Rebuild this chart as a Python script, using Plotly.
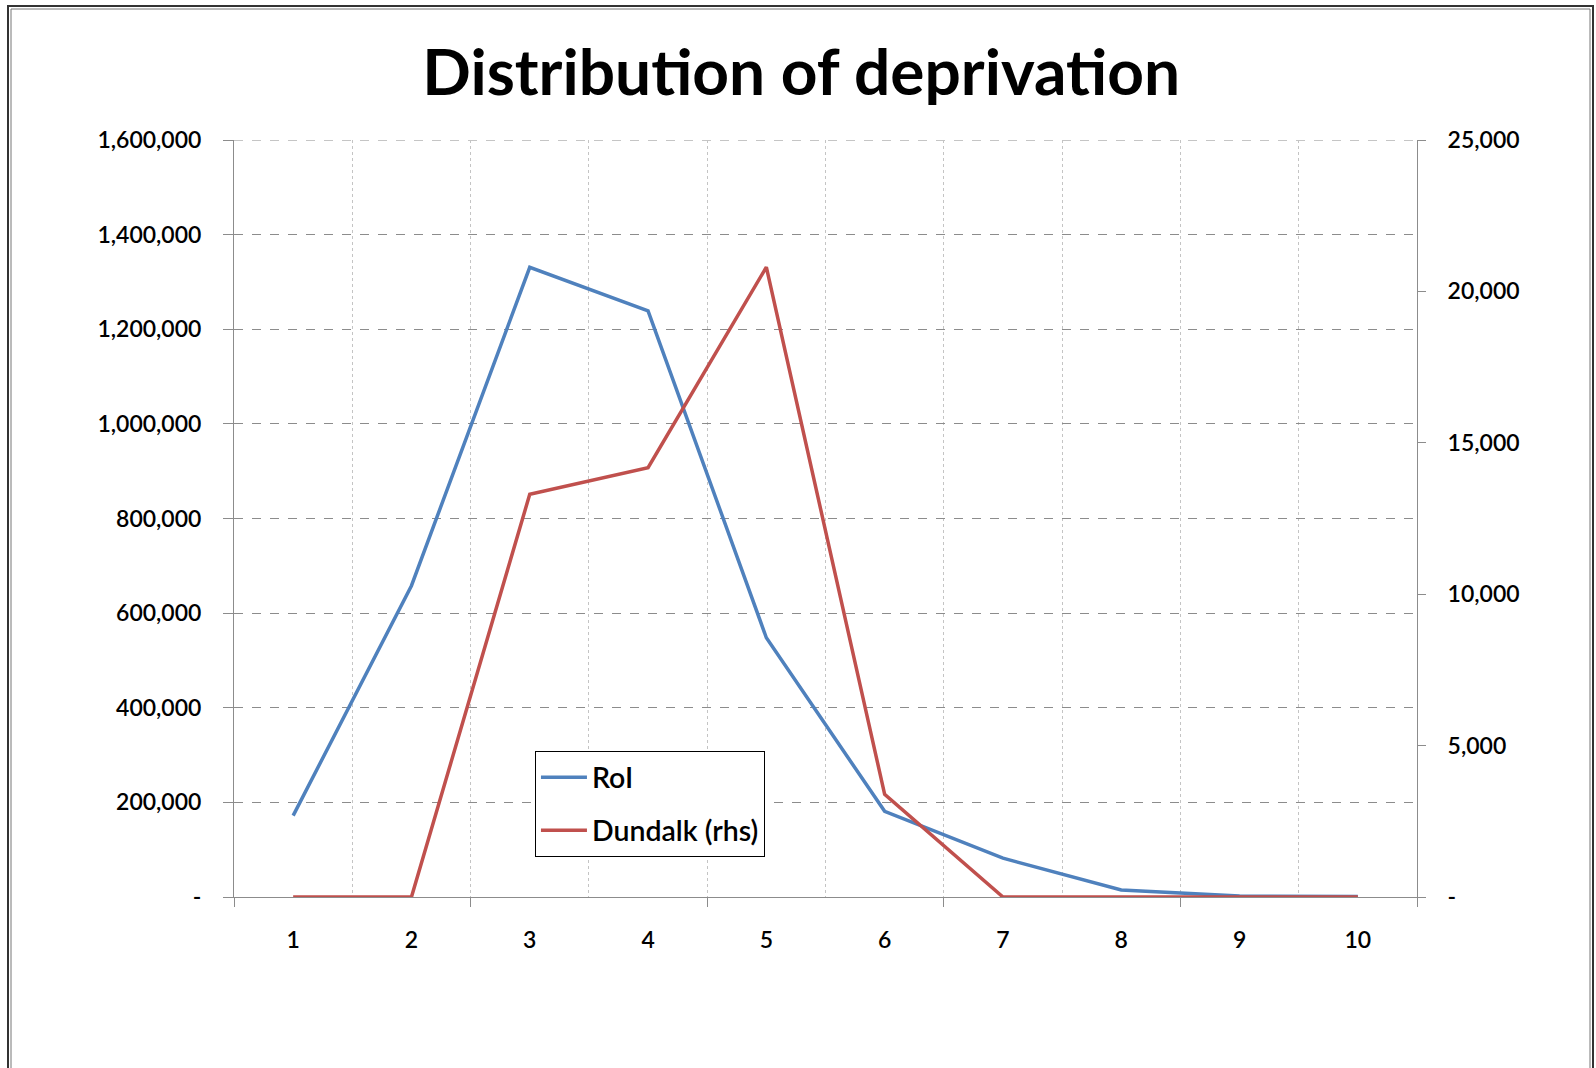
import plotly.graph_objects as go

deciles = [1, 2, 3, 4, 5, 6, 7, 8, 9, 10]
roi = [172000, 658000, 1331000, 1239000, 548000, 181000, 82000, 15000, 2000, 1000]
dundalk = [0, 0, 13300, 14180, 20800, 3390, 0, 0, 0, 0]

left_ticks = [0, 200000, 400000, 600000, 800000, 1000000, 1200000, 1400000, 1600000]
left_labels = ["-", "200,000", "400,000", "600,000", "800,000", "1,000,000", "1,200,000", "1,400,000", "1,600,000"]
right_ticks = [0, 5000, 10000, 15000, 20000, 25000]
right_labels = ["-", "5,000", "10,000", "15,000", "20,000", "25,000"]
x_bounds = [0.5, 1.5, 2.5, 3.5, 4.5, 5.5, 6.5, 7.5, 8.5, 9.5, 10.5]
x_major = [0.5, 2.5, 4.5, 6.5, 8.5, 10.5]

FONT = "Lato"
BLUE = "#4F81BD"
RED = "#C0504D"
AX = "#8c8c8c"

fig = go.Figure()
fig.add_trace(go.Scatter(x=deciles, y=roi, name="RoI", mode="lines",
                         line=dict(color=BLUE, width=3.5), legendgroup="a"))
fig.add_trace(go.Scatter(x=deciles, y=dundalk, name="Dundalk (rhs)", mode="lines",
                         line=dict(color=RED, width=3.5), yaxis="y2", legendgroup="b"))
# helper trace for the overlay x-axis that carries the major tick marks
fig.add_trace(go.Scatter(x=[x_bounds[0]], y=[0], xaxis="x2", mode="markers",
                         marker=dict(opacity=0), showlegend=False, hoverinfo="skip"))

tickfont = dict(family=FONT, size=23, color="black", weight=600)

fig.update_layout(
    width=1596, height=1068, autosize=False,
    paper_bgcolor="white", plot_bgcolor="white",
    margin=dict(l=234, r=179, t=140, b=171, pad=0),
    font=dict(family=FONT, size=22, color="black"),
    title=dict(text="<b>Distribution of deprivation</b>", x=0.502, xref="container",
               xanchor="center", y=0.932, yref="container", yanchor="middle",
               font=dict(family=FONT, size=64, color="black")),
    xaxis=dict(range=[0.5, 10.5], tickvals=deciles, ticktext=[str(d) for d in deciles],
               ticks="", showgrid=False, zeroline=False,
               showline=True, linecolor=AX, linewidth=1,
               ticklabelstandoff=22,
               tickfont=tickfont,
               minor=dict(tickvals=x_bounds, showgrid=True, gridcolor="#c4c4c4",
                          griddash="dot", gridwidth=1, ticks="")),
    xaxis2=dict(range=[0.5, 10.5], overlaying="x", side="bottom", anchor="y",
                tickvals=x_major, ticks="outside", ticklen=9, tickcolor=AX,
                showticklabels=False, showgrid=False, zeroline=False, showline=False),
    yaxis=dict(range=[0, left_ticks[-1]], tickvals=left_ticks, ticktext=left_labels,
               ticks="outside", ticklen=10, tickcolor=AX,
               showgrid=True, gridcolor=AX, griddash="dash", gridwidth=1,
               zeroline=False, showline=True, linecolor=AX, linewidth=1,
               ticklabelstandoff=17,
               tickfont=tickfont),
    yaxis2=dict(range=[0, right_ticks[-1]], tickvals=right_ticks, ticktext=right_labels,
                overlaying="y", side="right", anchor="x",
                ticks="outside", ticklen=8, tickcolor=AX,
                showgrid=False, zeroline=False, showline=True, linecolor=AX, linewidth=1,
                ticklabelstandoff=17,
                tickfont=tickfont),
    legend=dict(x=0.2544, y=0.1927, xanchor="left", yanchor="top",
                bgcolor="white", bordercolor="black", borderwidth=1,
                font=dict(family=FONT, size=28.5, color="black", weight=600),
                tracegroupgap=13, itemwidth=46),
    showlegend=True,
)

# top gridline at the end of the left value axis (Plotly omits it at the edge)
fig.add_shape(type="line", xref="paper", yref="y", x0=0, x1=1,
              y0=left_ticks[-1], y1=left_ticks[-1],
              line=dict(color=AX, width=1, dash="dash"), layer="below")

# outer frame of the slide
pw, ph = 1596 - 234 - 179, 1068 - 140 - 171
def px(x):
    return (x - 234) / pw
def py(y):
    return (1068 - 171 - y) / ph
fig.add_shape(type="rect", xref="paper", yref="paper",
              x0=px(8), x1=px(1593), y0=py(1090), y1=py(6),
              line=dict(color="#333333", width=2), fillcolor="rgba(0,0,0,0)", layer="below")
fig.add_shape(type="rect", xref="paper", yref="paper",
              x0=px(11), x1=px(1590), y0=py(1090), y1=py(9),
              line=dict(color="#777777", width=1), fillcolor="rgba(0,0,0,0)", layer="below")

fig.write_html("out.html")
